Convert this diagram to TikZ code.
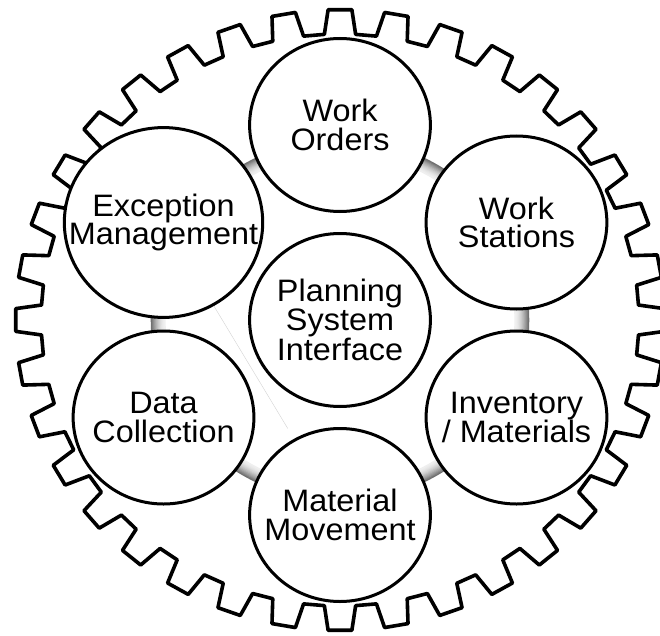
\documentclass[tikz,border=0pt]{standalone}
\usepackage{fontspec}
\setmainfont{Liberation Sans}
\begin{document}
\begin{tikzpicture}[x=1pt,y=1pt,
  gear/.style={line width=3.6pt, line join=round},
  bub/.style={circle, draw, line width=3pt, fill=white, minimum size=173pt,
    inner sep=0pt, align=center, font=\fontsize{31}{28.8}\selectfont, transform shape},
  faint/.style={draw=gray!35, line width=0.4pt}]
\useasboundingbox (-340,-315) rectangle (320,320);
\clip (-340,-315) rectangle (320,320);
\begin{scope}[xscale=1.045]
  % shaded ring behind the circles
  \foreach \i [evaluate=\i as \c using {6+50*(\i/13)^1.7}] in {0,...,13}
    \draw[line width=1.3pt, black!\c] (0,0) circle ({167.5+\i});
  % gear outline
  \draw[gear] (-7:286) foreach \a in {0,10,...,350}
    { -- ({\a-3}:286) -- ({\a-2.1}:310.5) -- ({\a+2.1}:310.5) -- ({\a+3}:286) } -- cycle;
  % circles
  \node[bub] (psi) at (0,0) {Planning\\System\\Interface};
  \node[bub] (wo)  at (90:195)  {Work\\Orders};
  \node[bub] (ws)  at (30:195)  {Work\\Stations};
  \node[bub] (inv) at (-30:195) {Inventory\\/ Materials};
  \node[bub] (mm)  at (-90:195) {Material\\Movement};
  \node[bub] (dc)  at (210:195) {Data\\Collection};
  \node[bub] (exc) at (150:195) {Exception\\Management};
  \draw[faint, shorten >=12pt] (exc) -- (mm);
\end{scope}
\end{tikzpicture}
\end{document}
